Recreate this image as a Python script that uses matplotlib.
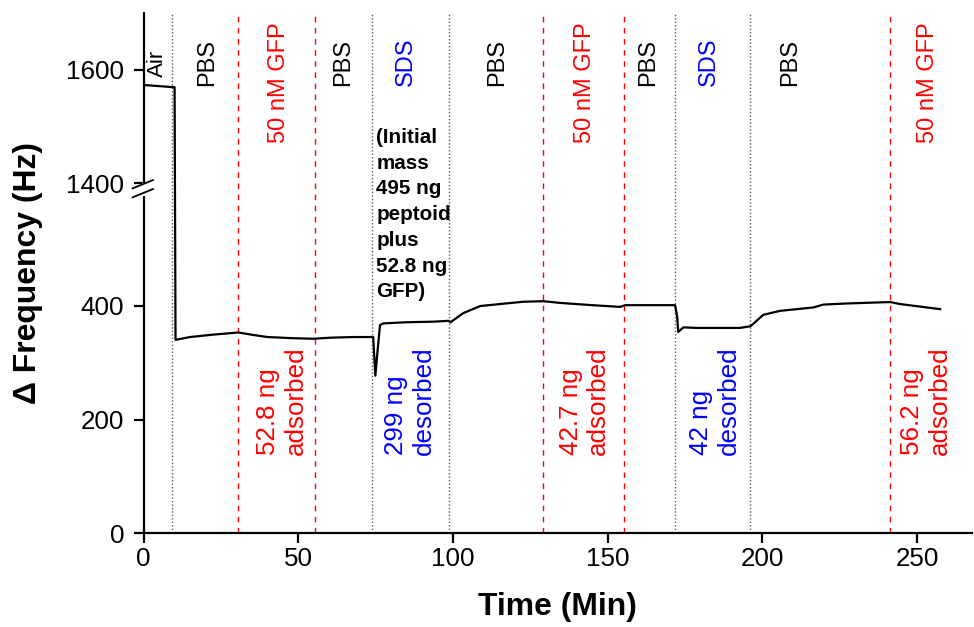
import matplotlib
matplotlib.use('Agg')
import matplotlib.pyplot as plt
from matplotlib import font_manager as fm

names = {f.name for f in fm.fontManager.ttflist}
if 'Liberation Sans Narrow' in names:
    FONT = 'Liberation Sans Narrow'; K = 1.0
else:
    FONT = 'Liberation Sans'; K = 0.85
plt.rcParams['font.family'] = [FONT, 'DejaVu Sans']

# ---------------- data ----------------
time_min = [0, 10.0, 10.3, 15, 22, 30.6, 35, 40, 48, 54.8, 61, 68, 74.2, 74.9, 75.6,
            76.4, 77.5, 85, 93.7, 98.5, 99.2, 103.3, 108.8, 115.2, 122.7, 129.2,
            134.6, 145, 154, 155.6, 165, 171.8, 172.5, 172.8, 174.5, 178.8, 192.8,
            196.2, 200.3, 205.7, 216.5, 219.7, 227.3, 241.3, 244.5, 257.5]
delta_freq = [1573, 1569, 340, 345, 349, 353, 349, 345, 343, 342, 344, 345, 345, 277, 320,
              366, 369, 371, 372, 373.5, 371, 387, 399.5, 403, 407, 408,
              405, 401, 398, 401, 401, 401, 380, 354, 362, 361, 361,
              364, 384, 391, 397, 402, 404, 406.5, 403, 394]

dotted_lines = [9.05, 73.8, 98.7, 171.8, 196.1]
dashed_lines = [30.6, 55.3, 129.0, 155.2, 241.2]

top_labels = ['PBS', '50 nM GFP', 'PBS', 'SDS', 'PBS', '50 nM GFP', 'PBS', 'SDS', 'PBS', '50 nM GFP']
top_x = [20.5, 43.7, 64.4, 84.8, 114.2, 142.6, 163.0, 182.8, 208.9, 253.6]
top_colors = ['black', 'red', 'black', 'blue', 'black', 'red', 'black', 'blue', 'black', 'red']

bottom_labels = ['52.8 ng\nadsorbed', '299 ng\ndesorbed', '42.7 ng\nadsorbed',
                 '42 ng\ndesorbed', '56.2 ng\nadsorbed']
bottom_x = [44.7, 86.1, 142.4, 184.7, 252.9]
bottom_colors = ['red', 'blue', 'red', 'blue', 'red']

note_text = '(Initial\nmass\n495 ng\npeptoid\nplus\n52.8 ng\nGFP)'

y_ticks = [0, 200, 400, 1400, 1600]
x_ticks = [0, 50, 100, 150, 200, 250]

BREAK = 1000
OFFSET = 785


def disp(v):
    return v - OFFSET if v >= BREAK else v


# ---------------- figure ----------------
fig = plt.figure(figsize=(9.74, 6.27), dpi=100)
ax = fig.add_axes([0.1475, 0.1494, 0.998 - 0.1475, 0.9797 - 0.1494])

for x in dotted_lines:
    ax.axvline(x, color='0.35', lw=1.0, ls=(0, (1, 1.5)), zorder=1)
for x in dashed_lines:
    ax.axvline(x, color='red', lw=1.0, ls=(0, (4, 4)), zorder=1)

ax.plot(time_min, [disp(v) for v in delta_freq], color='black', lw=1.6, zorder=3)

ax.set_xlim(0, 267.8)
ax.set_ylim(0, 915)
ax.set_xticks(x_ticks)
ax.set_xticklabels([str(t) for t in x_ticks])
ax.set_yticks([disp(v) for v in y_ticks])
ax.set_yticklabels([str(v) for v in y_ticks])

for s in ['top', 'right']:
    ax.spines[s].set_visible(False)
for s in ['left', 'bottom']:
    ax.spines[s].set_linewidth(1.6)
ax.tick_params(axis='both', direction='out', length=7, width=1.6, labelsize=22 * K)
ax.tick_params(axis='y', pad=7)
ax.tick_params(axis='x', pad=3)

ax.set_xlabel('Time (Min)', fontsize=27 * K, fontweight='bold', labelpad=15)
ax.set_ylabel('\u0394 Frequency (Hz)', fontsize=27 * K, fontweight='bold', labelpad=17)

# axis break marks
tr = ax.get_yaxis_transform()
ax.plot([0, 0], [595.8, 611.6], transform=tr, color='white', lw=3, clip_on=False, zorder=5)
ax.plot([-0.0133, 0.0112], [606.3, 620.9], transform=tr, color='black', lw=1.3, clip_on=False, zorder=6)
ax.plot([-0.0133, 0.0112], [590.5, 605.1], transform=tr, color='black', lw=1.3, clip_on=False, zorder=6)

# labels
ax.text(4.6, 826, 'Air', rotation=90, ha='center', va='center', fontsize=19 * K, color='black')
for lab, x, c in zip(top_labels, top_x, top_colors):
    yc = 792 if 'GFP' in lab else 828
    ax.text(x, yc, lab, rotation=90, ha='center', va='center', fontsize=20 * K, color=c)

for lab, x, c in zip(bottom_labels, bottom_x, bottom_colors):
    ax.text(x, 137.6, lab, rotation=90, ha='center', va='bottom', fontsize=22 * K,
            color=c, multialignment='left', linespacing=1.17)

ax.text(75.2, 560, note_text, ha='left', va='center', fontsize=17.5 * K, fontweight='bold',
        color='black', linespacing=1.45)

fig.savefig('out.png', dpi=100)
